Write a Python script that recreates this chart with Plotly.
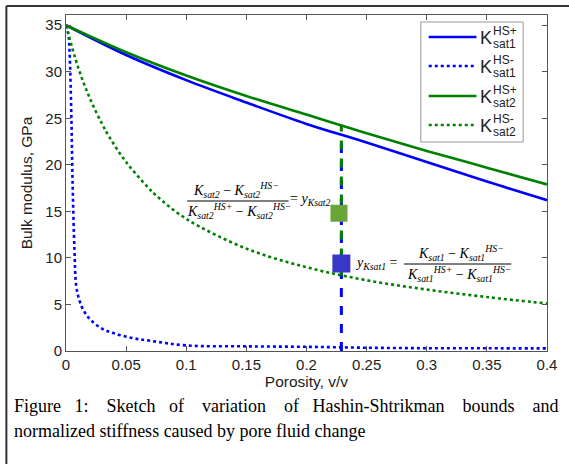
import plotly.graph_objects as go

# ---------------- data ----------------
phi_upper = [0, 0.05, 0.1, 0.15, 0.2, 0.25, 0.3, 0.35, 0.4]
k_sat1_hs_plus = [35, 31.8, 29.1, 26.7, 24.4, 22.4, 20.3, 18.2, 16.2]
k_sat2_hs_plus = [35, 32.1, 29.6, 27.4, 25.4, 23.4, 21.5, 19.7, 17.9]

phi_sat1_lower = [0, 0.002, 0.003, 0.0045, 0.0055, 0.007, 0.0085, 0.011, 0.014,
                  0.02, 0.03, 0.04, 0.055, 0.07, 0.1, 0.15, 0.2, 0.25, 0.3, 0.35, 0.4]
k_sat1_hs_minus = [35, 34, 32, 25, 18, 11, 7, 5.5, 4.5,
                   3.4, 2.4, 1.9, 1.4, 1.1, 0.6, 0.5, 0.45, 0.35, 0.3, 0.29, 0.28]

phi_sat2_lower = [0, 0.01, 0.02, 0.03, 0.036, 0.05, 0.068, 0.075, 0.1, 0.15,
                  0.2, 0.25, 0.3, 0.35, 0.4]
k_sat2_hs_minus = [35, 30.5, 27.1, 24.4, 23.0, 20.3, 17.6, 16.7, 14.2, 11.0,
                   9.0, 7.6, 6.6, 5.8, 5.1]

phi_marker = 0.229
blue_line_range = [0, 23.1]
green_line_range = [8.1, 24.3]
phi_green_marker = 0.227
y_green_marker = 14.8
y_blue_marker = 9.4

x_ticks = [0, 0.05, 0.1, 0.15, 0.2, 0.25, 0.3, 0.35, 0.4]
x_tick_labels = ["0", "0.05", "0.1", "0.15", "0.2", "0.25", "0.3", "0.35", "0.4"]
y_ticks = [0, 5, 10, 15, 20, 25, 30, 35]
y_tick_labels = ["0", "5", "10", "15", "20", "25", "30", "35"]

legend_labels = [("HS+", "sat1"), ("HS-", "sat1"), ("HS+", "sat2"), ("HS-", "sat2")]
caption_lines = [
    "Figure 1: Sketch of variation of Hashin-Shtrikman bounds and",
    "normalized stiffness caused by pore fluid change",
]

# ---------------- styling ----------------
BLUE = "#0000ff"
GREEN = "#008000"
W, H = 569, 464
L, R, T, B = 66, 550, 15, 351  # plot area in pixels

def px(x):
    return (x - L) / (R - L)

def py(y):
    return (B - y) / (B - T)

fig = go.Figure()

fig.add_trace(go.Scatter(x=phi_upper, y=k_sat1_hs_plus, mode="lines",
                         line=dict(color=BLUE, width=2.6, shape="spline"), showlegend=False))
fig.add_trace(go.Scatter(x=phi_sat1_lower, y=k_sat1_hs_minus, mode="lines",
                         line=dict(color=BLUE, width=2.6, dash="dot", shape="spline"),
                         showlegend=False))
fig.add_trace(go.Scatter(x=phi_upper, y=k_sat2_hs_plus, mode="lines",
                         line=dict(color=GREEN, width=2.6, shape="spline"), showlegend=False))
fig.add_trace(go.Scatter(x=phi_sat2_lower, y=k_sat2_hs_minus, mode="lines",
                         line=dict(color=GREEN, width=2.6, dash="dot", shape="spline"),
                         showlegend=False))

# vertical dashed lines
fig.add_trace(go.Scatter(x=[phi_marker, phi_marker], y=blue_line_range, mode="lines",
                         line=dict(color=BLUE, width=3, dash="dash"), showlegend=False))
fig.add_trace(go.Scatter(x=[phi_marker, phi_marker], y=green_line_range, mode="lines",
                         line=dict(color=GREEN, width=3, dash="dash"), showlegend=False))

# markers
fig.add_trace(go.Scatter(x=[phi_green_marker], y=[y_green_marker], mode="markers",
                         marker=dict(symbol="square", size=17, color="#6aa53a"),
                         showlegend=False))
fig.add_trace(go.Scatter(x=[phi_marker], y=[y_blue_marker], mode="markers",
                         marker=dict(symbol="square", size=18, color="#3838c8"),
                         showlegend=False))

shapes = []
annotations = []

# outer frame (left and top visible)
shapes.append(dict(type="line", xref="paper", yref="paper",
                   x0=px(6), x1=px(W + 10), y0=py(6), y1=py(6),
                   line=dict(color="#333", width=2)))
shapes.append(dict(type="line", xref="paper", yref="paper",
                   x0=px(6), x1=px(6), y0=py(6), y1=py(H + 10),
                   line=dict(color="#333", width=2)))

SERIF = "Liberation Serif"
SANS = "Liberation Sans"
EQ = 14

def eq_text(x, y, text, anchor="center", size=EQ):
    annotations.append(dict(xref="paper", yref="paper", x=px(x), y=py(y), text=text,
                            showarrow=False, xanchor=anchor, yanchor="middle",
                            font=dict(family=SERIF, size=size, color="black")))

def K(sub, sup=None):
    s = "<i>K<sub>%s</sub></i>" % sub
    if sup:
        s += "<i><sup>%s</sup></i>" % sup
    return s

# equation 1 (sat2)
eq_text(237, 190, K("sat2") + " − " + K("sat2", "HS−"))
shapes.append(dict(type="line", xref="paper", yref="paper", x0=px(188), x1=px(290),
                   y0=py(201), y1=py(201), line=dict(color="black", width=1)))
eq_text(240, 211, K("sat2", "HS+") + " − " + K("sat2", "HS−"))
eq_text(289, 199, "= <i>y<sub>Ksat2</sub></i>", anchor="left")

# equation 2 (sat1)
eq_text(402, 263, "<i>y<sub>Ksat1</sub></i> =", anchor="right")
eq_text(463, 253, K("sat1") + " − " + K("sat1", "HS−"))
shapes.append(dict(type="line", xref="paper", yref="paper", x0=px(406), x1=px(514),
                   y0=py(264), y1=py(264), line=dict(color="black", width=1)))
eq_text(461, 274, K("sat1", "HS+") + " − " + K("sat1", "HS−"))

# manual legend
shapes.append(dict(type="rect", xref="paper", yref="paper", x0=px(423), x1=px(526),
                   y0=py(22), y1=py(142), fillcolor="white",
                   line=dict(color="#9a9a9a", width=1), layer="above"))
legend_styles = [(BLUE, "solid"), (BLUE, "dot"), (GREEN, "solid"), (GREEN, "dot")]
legend_y = [37, 66, 96, 125]
for (color, dash), ly, (sup, sub) in zip(legend_styles, legend_y, legend_labels):
    shapes.append(dict(type="line", xref="paper", yref="paper", x0=px(431), x1=px(479),
                       y0=py(ly), y1=py(ly), line=dict(color=color, width=2.6, dash=dash),
                       layer="above"))
    annotations.append(dict(xref="paper", yref="paper", x=px(481), y=py(ly + 1), text="K",
                            showarrow=False, xanchor="left", yanchor="middle",
                            font=dict(family=SANS, size=18, color="#222")))
    annotations.append(dict(xref="paper", yref="paper", x=px(494), y=py(ly - 6), text=sup,
                            showarrow=False, xanchor="left", yanchor="middle",
                            font=dict(family=SANS, size=12, color="#222")))
    annotations.append(dict(xref="paper", yref="paper", x=px(494), y=py(ly + 7), text=sub,
                            showarrow=False, xanchor="left", yanchor="middle",
                            font=dict(family=SANS, size=12, color="#222")))

# caption (first line justified like the reference)
words = caption_lines[0].split(" ")
line1 = words[0]
for i, w in enumerate(words[1:]):
    gap = " \u00a0\u00a0" + ("\u00a0" if i in (1, 3, 4, 6, 7) else "")
    line1 += gap + w
annotations.append(dict(xref="paper", yref="paper", x=px(12), y=py(406),
                        text=line1, showarrow=False, xanchor="left",
                        yanchor="middle", font=dict(family=SERIF, size=18, color="black")))
annotations.append(dict(xref="paper", yref="paper", x=px(12), y=py(431),
                        text=caption_lines[1], showarrow=False, xanchor="left",
                        yanchor="middle", font=dict(family=SERIF, size=18, color="black")))

axis_common = dict(showline=True, linecolor="#555", linewidth=1, mirror="ticks",
                   ticks="inside", ticklen=5, tickcolor="#555", showgrid=False,
                   zeroline=False, tickfont=dict(family=SANS, size=15, color="#222"))

fig.update_layout(
    width=W, height=H,
    margin=dict(l=L, r=W - R, t=T, b=H - B),
    paper_bgcolor="white", plot_bgcolor="white",
    xaxis=dict(range=[0, 0.4], tickvals=x_ticks, ticktext=x_tick_labels,
               title=dict(text="Porosity, v/v", font=dict(family=SANS, size=15.5, color="#222"),
                          standoff=2),
               **axis_common),
    yaxis=dict(range=[0, 36.1], tickvals=y_ticks, ticktext=y_tick_labels,
               title=dict(text="Bulk modulus, GPa", font=dict(family=SANS, size=15.5, color="#222"),
                          standoff=8),
               **axis_common),
    shapes=shapes, annotations=annotations, showlegend=False,
)

fig.write_html("out.html")
